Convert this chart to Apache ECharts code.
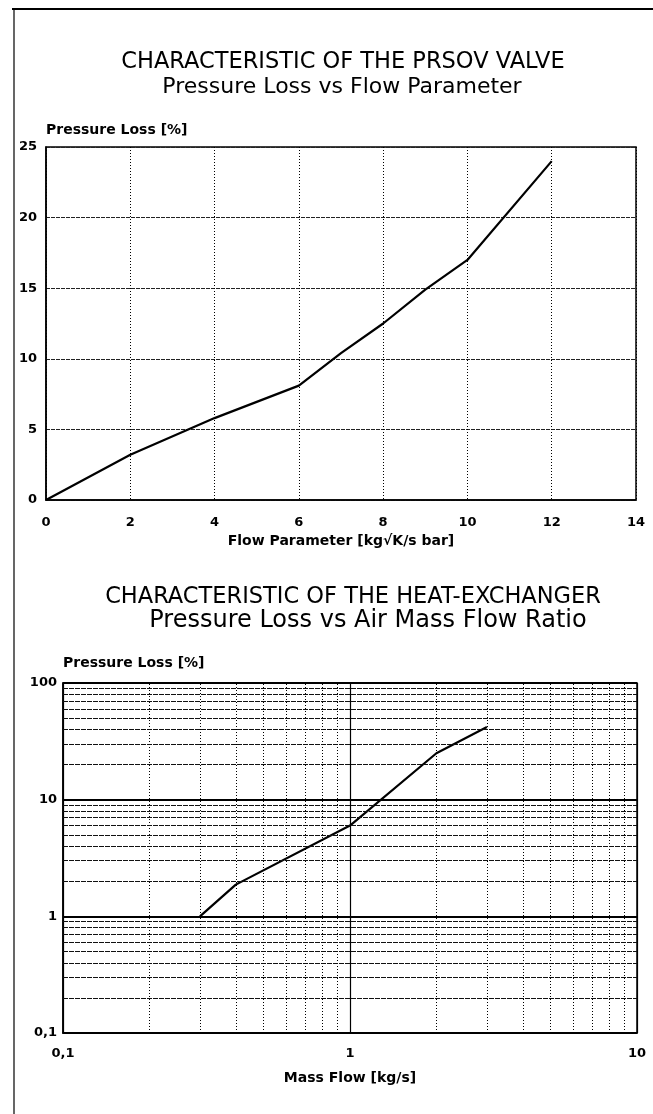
<!DOCTYPE html>
<html><head><meta charset="utf-8">
<script src="https://cdn.jsdelivr.net/npm/echarts@6/dist/echarts.min.js"></script>
<style>html,body{margin:0;padding:0;background:#fff}#c{width:653px;height:1114px}</style>
</head><body><div id="c"></div>
<script>
// Top chart: PRSOV valve
const valveFlow = [0, 2, 4, 6, 7, 8, 9, 10, 12];
const valveLoss = [0, 3.2, 5.8, 8.1, 10.4, 12.5, 14.9, 17.0, 24.0];
// Bottom chart: heat exchanger (log-log)
const hxFlow = [0.3, 0.4, 1.0, 2.0, 3.0];
const hxLoss = [1.0, 1.87, 6.0, 25, 42];
// minor grid values for log paper
const hxMinorX = [0.2,0.3,0.4,0.5,0.6,0.7,0.8,0.9,2,3,4,5,6,7,8,9];
const hxMinorY = [0.2,0.3,0.4,0.5,0.6,0.7,0.8,0.9,2,3,4,5,6,7,8,9,20,30,40,50,60,70,80,90];

const titles = {
  t1: 'CHARACTERISTIC OF THE PRSOV VALVE',
  s1: 'Pressure Loss vs Flow Parameter',
  t2: 'CHARACTERISTIC OF THE HEAT-EXCHANGER',
  s2: 'Pressure Loss vs Air Mass Flow Ratio'
};
const yName = 'Pressure Loss [%]';
const x1Name = 'Flow Parameter [kg\u221AK/s bar]';
const x2Name = 'Mass Flow [kg/s]';

const TF = '"DejaVu Sans", "Liberation Sans", Arial, sans-serif';
const ts = size => ({fontFamily: TF, fontSize: size, fontWeight: 'normal', color: '#000'});
const lblStyle = {fontFamily: TF, fontSize: 13, fontWeight: 'bold', color: '#000'};
const nameStyle = {fontFamily: TF, fontSize: 14, fontWeight: 'bold', color: '#000'};
const comma = v => String(+v.toPrecision(6)).replace('.', ',');

const chart = echarts.init(document.getElementById('c'), null, {renderer: 'canvas'});
chart.setOption({
  backgroundColor: '#fff',
  animation: false,
  title: [
    {text: titles.t1, left: 343, top: 62, textAlign: 'center', textVerticalAlign: 'middle', textStyle: ts(22.5), padding: 0},
    {text: titles.s1, left: 342, top: 87, textAlign: 'center', textVerticalAlign: 'middle', textStyle: ts(22), padding: 0},
    {text: titles.t2, left: 353, top: 597, textAlign: 'center', textVerticalAlign: 'middle', textStyle: ts(22.5), padding: 0},
    {text: titles.s2, left: 368, top: 621, textAlign: 'center', textVerticalAlign: 'middle', textStyle: ts(24), padding: 0}
  ],
  graphic: [
    {type: 'line', shape: {x1: 12, y1: 9, x2: 653, y2: 9}, style: {stroke: '#000', lineWidth: 2}},
    {type: 'line', shape: {x1: 14, y1: 9, x2: 14, y2: 1114}, style: {stroke: '#000', lineWidth: 1.2}}
  ],
  grid: [
    {left: 46, top: 147, width: 590, height: 353, show: true, borderColor: '#000', borderWidth: 1.5},
    {left: 63, top: 683, width: 574, height: 350, show: true, borderColor: '#000', borderWidth: 1.5}
  ],
  xAxis: [
    {gridIndex: 0, type: 'value', min: 0, max: 14, interval: 2,
     name: x1Name, nameLocation: 'middle', nameGap: 34, nameTextStyle: nameStyle,
     axisLine: {show: true, lineStyle: {color: '#000', width: 1.5}},
     axisTick: {show: false},
     axisLabel: Object.assign({margin: 16}, lblStyle),
     splitLine: {show: true, lineStyle: {color: '#000', width: 1, type: [1, 2]}}},
    {gridIndex: 1, type: 'log', logBase: 10, min: 0.1, max: 10,
     name: x2Name, nameLocation: 'middle', nameGap: 38, nameTextStyle: nameStyle,
     axisLine: {show: true, lineStyle: {color: '#000', width: 1.5}},
     axisTick: {show: false},
     axisLabel: Object.assign({margin: 14, formatter: comma}, lblStyle),
     splitLine: {show: true, lineStyle: {color: '#000', width: 1.2, type: 'solid'}}}
  ],
  yAxis: [
    {gridIndex: 0, type: 'value', min: 0, max: 25, interval: 5,
     name: yName, nameLocation: 'end', nameGap: 10,
     nameTextStyle: Object.assign({align: 'left', padding: [0, 0, 0, 0]}, nameStyle),
     axisLine: {show: true, lineStyle: {color: '#000', width: 1.5}},
     axisTick: {show: false},
     axisLabel: Object.assign({margin: 9}, lblStyle),
     splitLine: {show: true, lineStyle: {color: '#222', width: 1.2, type: [4, 1]}}},
    {gridIndex: 1, type: 'log', logBase: 10, min: 0.1, max: 100,
     name: yName, nameLocation: 'end', nameGap: 13,
     nameTextStyle: Object.assign({align: 'left', padding: [0, 0, 0, 0]}, nameStyle),
     axisLine: {show: true, lineStyle: {color: '#000', width: 1.5}},
     axisTick: {show: false},
     axisLabel: Object.assign({margin: 6, formatter: comma}, lblStyle),
     splitLine: {show: true, lineStyle: {color: '#000', width: 2.2, type: 'solid'}}}
  ],
  series: [
    {type: 'line', xAxisIndex: 0, yAxisIndex: 0, symbol: 'none', smooth: false,
     lineStyle: {color: '#000', width: 2.2},
     data: valveFlow.map((x, i) => [x, valveLoss[i]])},
    {type: 'line', xAxisIndex: 1, yAxisIndex: 1, symbol: 'none', smooth: false,
     lineStyle: {color: '#000', width: 2.2},
     data: hxFlow.map((x, i) => [x, hxLoss[i]]),
     markLine: {silent: true, symbol: 'none', label: {show: false}, animation: false,
       data: hxMinorX.map(v => ({xAxis: v, lineStyle: {color: '#000', width: 1, type: [1, 2]}}))
         .concat(hxMinorY.map(v => ({yAxis: v, lineStyle: {color: '#111', width: 1.1, type: [5, 1]}})))}}
  ]
});
</script></body></html>
